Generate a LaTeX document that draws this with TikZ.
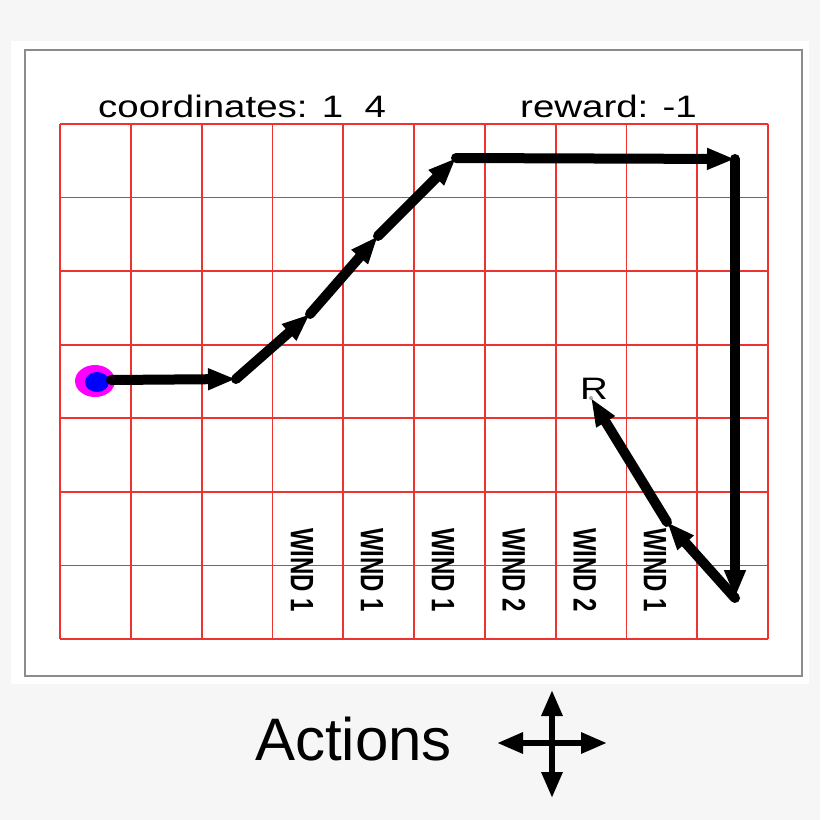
\documentclass[tikz,border=0pt]{standalone}
\usepackage{fontspec}
\setmainfont{Liberation Sans}
\usetikzlibrary{arrows.meta}
\definecolor{bgout}{RGB}{246,246,246}
\definecolor{framegrey}{RGB}{140,140,140}
\definecolor{gridred}{RGB}{238,50,50}
\definecolor{dotgrey}{RGB}{170,170,170}
\definecolor{halo}{RGB}{255,0,255}
\definecolor{agentblue}{RGB}{0,0,255}
\begin{document}
\begin{tikzpicture}[x=1pt,y=-1pt,
  move/.style={line width=10pt, line cap=round, -{Triangle[length=28pt,width=20pt]}},
  act/.style={line width=6pt, {Triangle[length=26pt,width=20pt]}-{Triangle[length=26pt,width=20pt]}},
  windlbl/.style={inner sep=0pt, anchor=north, font=\fontsize{24}{24}\selectfont\bfseries},
  toplbl/.style={inner sep=0pt, anchor=base west, font=\fontsize{31}{31}\selectfont},
  gridline/.style={gridred, line width=1.8pt}]
\useasboundingbox (0,0) rectangle (820,820);
\fill[bgout] (0,0) rectangle (820,820);
\fill[white] (11,41) rectangle (809,684);
\draw[framegrey, line width=2pt] (25,50) rectangle (802,676);
% grid
\foreach \i in {0,...,10} \draw[gridline] ({60+70.8*\i},124) -- ({60+70.8*\i},639);
\foreach \j in {0,...,7} \draw[gridline] (60,{124+73.57*\j}) -- (768,{124+73.57*\j});
% top labels
\node[toplbl] (coord) at (98,117) {\scalebox{1.24}[1]{coordinates: 1\ \ 4}};
\node[toplbl] (rew) at (520,117) {\scalebox{1.24}[1]{reward: -1}};
% wind labels
\node[windlbl] (w1) at (302,528) {\scalebox{1.35}[1]{\rotatebox{-90}{WIND 1}}};
\node[windlbl] (w2) at (372,528) {\scalebox{1.35}[1]{\rotatebox{-90}{WIND 1}}};
\node[windlbl] (w3) at (443,528) {\scalebox{1.35}[1]{\rotatebox{-90}{WIND 1}}};
\node[windlbl] (w4) at (514,528) {\scalebox{1.35}[1]{\rotatebox{-90}{WIND 2}}};
\node[windlbl] (w5) at (585,528) {\scalebox{1.35}[1]{\rotatebox{-90}{WIND 2}}};
\node[windlbl] (w6) at (655,528) {\scalebox{1.35}[1]{\rotatebox{-90}{WIND 1}}};
% reward cell
\node[inner sep=0pt, anchor=base, font=\fontsize{31}{31}\selectfont] (rlbl) at (594,399) {\scalebox{1.24}[1]{R}};
\fill[dotgrey] (591,398) circle (2);
% agent
\fill[halo] (95,381) ellipse [x radius=20, y radius=16];
\fill[agentblue] (97,382) ellipse [x radius=12, y radius=10];
% path
\coordinate (p0) at (111,380);
\coordinate (p1) at (236,379);
\coordinate (p2) at (310,314);
\coordinate (p3) at (378,236);
\coordinate (p4) at (456,158);
\coordinate (p5) at (735,159);
\coordinate (p6) at (735,598);
\coordinate (p7) at (667,522);
\coordinate (p8) at (591,398);
\draw[move] (p0) -- (p1);
\draw[move] (p1) -- (p2);
\draw[move] (p2) -- (p3);
\draw[move] (p3) -- (p4);
\draw[move] (p4) -- (p5);
\draw[move] (p5) -- (p6);
\draw[move] (p6) -- (p7);
\draw[move] (p7) -- (p8);
% actions legend
\node[inner sep=0pt, anchor=base west, font=\fontsize{60}{60}\selectfont] (actions) at (255,760) {Actions};
\coordinate (cu) at (552,690);
\coordinate (cd) at (552,798);
\coordinate (cl) at (497,743);
\coordinate (cr) at (607,743);
\draw[act] (cl) -- (cr);
\draw[act] (cu) -- (cd);
\end{tikzpicture}
\end{document}
